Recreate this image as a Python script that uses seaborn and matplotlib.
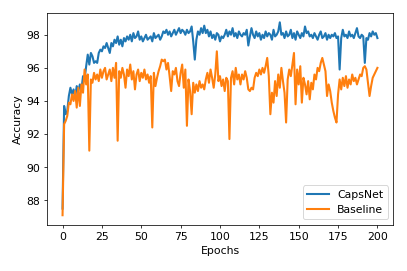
import numpy as np
import pandas as pd
import seaborn as sns
import matplotlib.pyplot as plt

epochs = np.arange(0, 201)

capsnet = [
    87.5, 93.7, 93.2, 93.4, 94.3, 94.8, 94.4, 94.7, 94.2, 94.9,
    94.6, 95.0, 94.7, 95.5, 95.3, 96.1, 96.8, 96.2, 96.9, 96.7,
    96.3, 96.4, 96.3, 96.9, 97.1, 97.0, 97.3, 97.2, 97.5, 97.2,
    96.9, 97.5, 97.3, 97.7, 97.5, 97.9, 97.4, 97.7, 97.3, 97.8,
    97.6, 97.9, 97.7, 98.0, 97.6, 98.1, 97.8, 97.9, 98.2, 97.7,
    97.9, 97.6, 97.8, 98.0, 97.7, 97.8, 97.9, 97.6, 98.1, 97.8,
    97.9, 98.0, 97.7, 97.9, 98.2, 98.1, 98.3, 98.0, 98.2, 97.9,
    98.1, 98.3, 98.0, 98.2, 98.4, 98.1, 98.3, 98.2, 98.0, 98.3,
    98.1, 98.2, 98.5, 97.6, 96.5, 97.7, 98.2, 98.0, 98.4, 98.1,
    98.55, 98.1, 98.3, 97.9, 98.2, 97.8, 98.0, 97.7, 98.1, 98.0,
    97.6, 97.9, 97.8, 98.0, 98.3, 97.9, 98.2, 98.0, 98.4, 97.9,
    98.1, 97.8, 98.2, 98.0, 97.9, 98.1, 98.0, 98.3, 97.35, 97.9,
    98.4, 98.0, 97.8, 98.2, 97.9, 98.1, 97.7, 98.0, 97.8, 98.2,
    97.9, 98.1, 98.0, 97.7, 98.3, 97.9, 98.0, 98.2, 98.75, 98.0,
    98.1, 97.8, 98.2, 97.9, 98.0, 98.3, 97.8, 98.1, 97.7, 98.2,
    98.0, 97.8, 98.1, 97.9, 98.5, 98.1, 98.2, 97.9, 98.0, 97.8,
    98.1, 97.9, 97.7, 98.0, 98.2, 97.8, 97.9, 98.1, 97.7, 98.0,
    97.8, 98.0, 97.9, 98.1, 97.8, 97.9, 95.9, 97.8, 98.3, 97.9,
    98.0, 97.8, 98.2, 97.9, 98.0, 97.8, 98.1, 98.4, 97.9, 97.8,
    98.0, 97.9, 96.3, 97.8, 97.7, 98.1, 97.9, 98.2, 98.0, 98.1,
    97.8,
]

baseline = [
    87.1, 92.6, 92.8, 93.1, 93.9, 93.8, 94.4, 94.0, 94.6, 93.6,
    94.8, 93.7, 95.0, 94.5, 95.9, 95.0, 95.6, 91.0, 95.3, 95.1,
    95.7, 95.3, 95.6, 95.2, 95.9, 95.4, 95.8, 96.0, 95.3, 95.6,
    95.9, 95.2, 96.0, 95.4, 96.3, 91.6, 95.8, 95.4, 96.0, 95.6,
    94.8, 95.9, 95.5, 96.2, 95.3, 95.8, 94.7, 95.6, 95.9, 95.2,
    95.7, 95.4, 95.9, 95.3, 95.6, 95.1, 95.5, 92.4, 95.7, 94.9,
    95.4, 95.8, 96.1, 96.5, 96.4, 96.5, 95.9, 96.3, 95.5, 94.6,
    95.8, 95.6, 96.0, 95.2, 94.9, 95.7, 96.2, 94.8, 95.9, 92.5,
    95.3, 94.6, 93.2, 95.1, 94.5, 95.0, 94.6, 95.2, 94.8, 95.0,
    94.7, 95.3, 95.7, 95.1, 95.9, 95.4, 94.8, 95.6, 97.0, 95.2,
    95.5, 94.9, 95.3, 94.6, 95.4, 95.2, 91.7, 95.4, 95.8, 95.0,
    96.0, 95.3, 95.6, 95.0, 95.6, 95.3, 95.8, 95.4, 94.7, 94.6,
    94.8, 94.7, 95.4, 95.7, 95.5, 95.9, 95.6, 96.0, 95.7, 96.1,
    96.6, 95.5, 93.2, 94.5, 93.9, 95.2, 94.3, 95.6, 94.8, 96.0,
    95.2, 94.5, 92.7, 95.3, 95.9, 95.5, 96.2, 96.9, 93.8, 95.9,
    95.0, 96.1, 93.9, 95.4, 95.0, 94.4, 95.2, 94.1, 95.1, 94.7,
    95.6, 95.3, 96.0, 95.8, 96.3, 96.6, 96.2, 95.8, 94.3, 95.0,
    94.6, 93.9, 93.4, 93.0, 92.7, 94.4, 95.3, 94.7, 95.4, 94.9,
    95.5, 94.8, 95.3, 95.0, 95.6, 95.2, 95.4, 95.0, 95.3, 95.6,
    95.5, 96.0, 96.1, 95.9, 95.1, 94.3, 94.9, 95.4, 95.6, 95.8,
    96.0,
]

df = pd.DataFrame({"Epochs": epochs, "CapsNet": capsnet, "Baseline": baseline})

plt.rcParams["font.size"] = 11.5

fig = plt.figure(figsize=(6, 4), dpi=407 / 6)
ax = fig.add_subplot(111)
sns.lineplot(data=df, x="Epochs", y="CapsNet", label="CapsNet", color="#1f77b4", linewidth=2.2, ax=ax)
sns.lineplot(data=df, x="Epochs", y="Baseline", label="Baseline", color="#ff7f0e", linewidth=2.2, ax=ax)
ax.set_xlabel("Epochs")
ax.set_ylabel("Accuracy")
ax.set_xticks([0, 25, 50, 75, 100, 125, 150, 175, 200])
ax.set_yticks([88, 90, 92, 94, 96, 98])
ax.legend(loc="lower right")
plt.subplots_adjust(left=0.115, right=0.966, top=0.952, bottom=0.17)
plt.savefig("out.png")
